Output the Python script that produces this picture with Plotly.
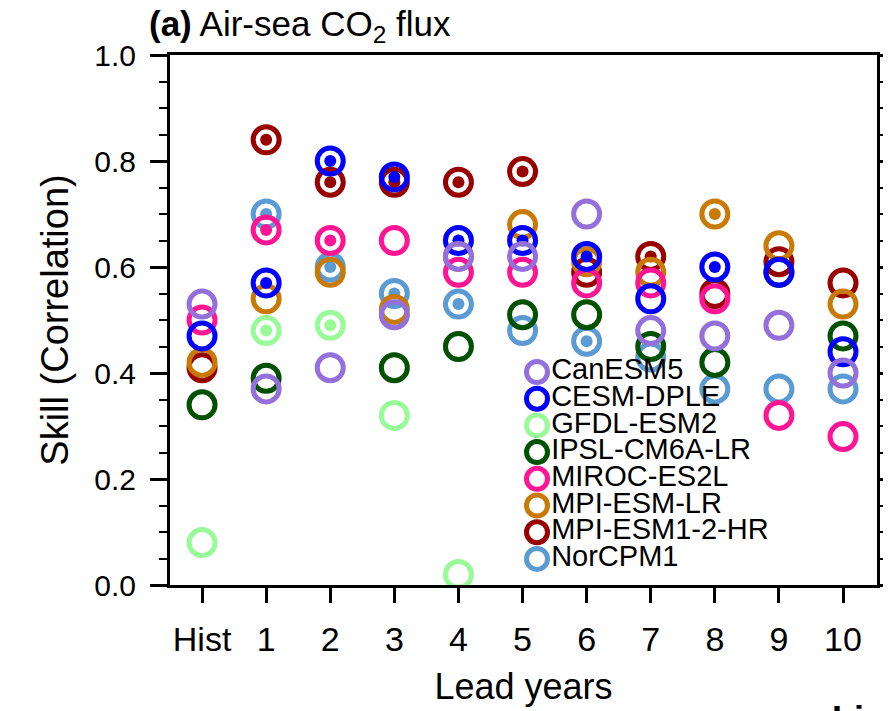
import plotly.graph_objects as go

lead_labels = ["Hist", "1", "2", "3", "4", "5", "6", "7", "8", "9", "10"]
lead_x = list(range(11))

models = ["CanESM5", "CESM-DPLE", "GFDL-ESM2", "IPSL-CM6A-LR", "MIROC-ES2L",
          "MPI-ESM-LR", "MPI-ESM1-2-HR", "NorCPM1"]
colors = ["#9370DB", "#0000FF", "#98FB98", "#005200", "#FF1493",
          "#C97A06", "#990000", "#5B9BD3"]
N = None

canesm5 = [0.53, 0.37, 0.41, 0.51, 0.62, 0.62, 0.70, 0.48, 0.47, 0.49, 0.40]
cesm_dple = [0.47, 0.57, 0.80, 0.77, 0.65, 0.65, 0.62, 0.54, 0.60, 0.59, 0.44]
gfdl_esm2 = [0.08, 0.48, 0.49, 0.32, 0.02, N, N, N, N, N, N]
ipsl_cm6a = [0.34, 0.39, N, 0.41, 0.45, 0.51, 0.51, 0.45, 0.42, 0.59, 0.47]
miroc_es2l = [0.50, 0.67, 0.65, 0.65, 0.59, 0.59, 0.57, 0.57, 0.54, 0.32, 0.28]
mpi_esm_lr = [0.42, 0.54, 0.59, 0.52, 0.62, 0.68, 0.61, 0.59, 0.70, 0.64, 0.53]
mpi_esm_hr = [0.41, 0.84, 0.76, 0.76, 0.76, 0.78, 0.59, 0.62, 0.55, 0.61, 0.57]
norcpm1 = [N, 0.70, 0.60, 0.55, 0.53, 0.48, 0.46, 0.43, 0.37, 0.37, 0.37]

# significance flags (1 = filled dot in the centre)
sig_canesm5 = [0, 0, 0, 0, 0, 0, 0, 0, 0, 0, 0]
sig_cesm_dple = [0, 1, 1, 1, 1, 1, 1, 0, 1, 0, 0]
sig_gfdl_esm2 = [0, 1, 1, 0, 0, 0, 0, 0, 0, 0, 0]
sig_ipsl_cm6a = [0, 0, 0, 0, 0, 0, 0, 0, 0, 0, 0]
sig_miroc_es2l = [0, 1, 1, 0, 0, 0, 0, 0, 0, 0, 0]
sig_mpi_esm_lr = [0, 0, 0, 0, 0, 0, 0, 0, 1, 0, 0]
sig_mpi_esm_hr = [0, 1, 1, 1, 1, 1, 0, 1, 0, 0, 0]
sig_norcpm1 = [0, 1, 1, 1, 1, 0, 1, 0, 0, 0, 0]

values = [canesm5, cesm_dple, gfdl_esm2, ipsl_cm6a, miroc_es2l,
          mpi_esm_lr, mpi_esm_hr, norcpm1]
sigs = [sig_canesm5, sig_cesm_dple, sig_gfdl_esm2, sig_ipsl_cm6a,
        sig_miroc_es2l, sig_mpi_esm_lr, sig_mpi_esm_hr, sig_norcpm1]

FONT = "Liberation Sans, Arial, Helvetica, sans-serif"
OFF = 8  # default page body margin in the browser
W, H = 891 - OFF, 711 - OFF
ML, MR, MT, MB = 170 - OFF, 14, 55 - OFF, 126
PW, PH = W - ML - MR, H - MT - MB


def px_to_xfrac(px):
    return (px - OFF - ML) / PW


def px_to_yfrac(py):
    return (OFF + MT + PH - py) / PH


fig = go.Figure()

# data: drawn in reverse order so CanESM5 ends on top
for i in reversed(range(len(models))):
    fig.add_trace(go.Scatter(
        x=lead_x, y=values[i], mode="markers", name=models[i], showlegend=False,
        marker=dict(symbol="circle-open", size=26, color=colors[i],
                    line=dict(width=5, color=colors[i])),
    ))
    sx = [x for x, v, s in zip(lead_x, values[i], sigs[i]) if s and v is not None]
    sy = [v for v, s in zip(values[i], sigs[i]) if s and v is not None]
    fig.add_trace(go.Scatter(
        x=sx, y=sy, mode="markers", showlegend=False,
        marker=dict(symbol="circle", size=12, color=colors[i]),
    ))

# in-plot legend (drawn on an overlay axis in plot-fraction units)
leg_x0_px, leg_y0_px, leg_dy_px = 537, 372, 26.7
leg_x = [px_to_xfrac(leg_x0_px)] * len(models)
leg_y = [px_to_yfrac(leg_y0_px + k * leg_dy_px) for k in range(len(models))]
fig.add_trace(go.Scatter(
    x=leg_x, y=leg_y, xaxis="x2", yaxis="y2", mode="markers+text",
    text=models, textposition="middle right", showlegend=False,
    textfont=dict(family=FONT, size=29, color="black"),
    marker=dict(symbol="circle-open", size=21, color=colors,
                line=dict(width=5, color=colors)),
    cliponaxis=False,
))

fig.update_layout(
    width=W, height=H,
    margin=dict(l=ML, r=MR, t=MT, b=MB),
    paper_bgcolor="white", plot_bgcolor="white",
    font=dict(family=FONT, size=30, color="black"),
    showlegend=False,
    xaxis=dict(range=[-0.5, 10.53], tickvals=lead_x, ticktext=lead_labels,
               automargin=False,
               showgrid=False, zeroline=False, showline=True, linecolor="black",
               linewidth=3, mirror=True, ticks="outside", ticklen=15,
               tickwidth=2.5, tickcolor="black", ticklabelstandoff=7,
               tickfont=dict(size=34),
               title=dict(text="Lead years", font=dict(size=36), standoff=18)),
    yaxis=dict(range=[0, 1.0], dtick=0.2, tickformat=".1f", automargin=False,
               showgrid=False, zeroline=False, showline=True, linecolor="black",
               linewidth=3, mirror="ticks", ticks="outside", ticklen=17,
               tickwidth=3, tickcolor="black", ticklabelstandoff=8,
               tickfont=dict(size=30),
               minor=dict(dtick=0.05, ticks="outside", ticklen=8, tickwidth=2,
                          tickcolor="black"),
               title=dict(text="Skill (Correlation)", font=dict(size=38),
                          standoff=14)),
    xaxis2=dict(overlaying="x", range=[0, 1], visible=False, fixedrange=True),
    yaxis2=dict(overlaying="y", range=[0, 1], visible=False, fixedrange=True),
)

fig.add_annotation(
    text="<b>(a)</b> Air-sea CO<sub>2</sub> flux", xref="paper", yref="paper",
    x=px_to_xfrac(147), y=px_to_yfrac(26), xanchor="left", yanchor="middle",
    showarrow=False, font=dict(family=FONT, size=35, color="black"),
)
fig.add_annotation(
    text="<b>Li</b>", xref="paper", yref="paper",
    x=px_to_xfrac(848), y=px_to_yfrac(697), xanchor="center", yanchor="top",
    showarrow=False, font=dict(family=FONT, size=36, color="black"),
)

fig.write_html("out.html")
